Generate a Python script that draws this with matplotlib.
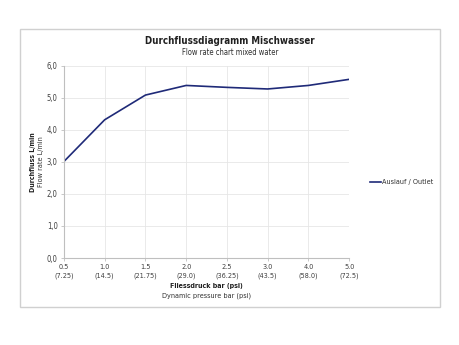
import matplotlib.pyplot as plt
from matplotlib.patches import Rectangle

# Daten
pressure_bar = ["0.5", "1.0", "1.5", "2.0", "2.5", "3.0", "4.0", "5.0"]
pressure_psi = ["(7.25)", "(14.5)", "(21.75)", "(29.0)", "(36.25)", "(43.5)", "(58.0)", "(72.5)"]
flow_outlet = [3.01, 4.31, 5.08, 5.38, 5.32, 5.27, 5.38, 5.57]
y_ticks = [0, 1, 2, 3, 4, 5, 6]

# schmale Schrift
plt.rcParams["font.family"] = ["DejaVu Sans"]
plt.rcParams["font.stretch"] = "condensed"

fig = plt.figure(figsize=(4.6, 3.45), dpi=100)
ax = fig.add_axes([0.139, 0.252, 0.620, 0.558])

# Rahmen um das ganze Diagramm
fig.patches.append(Rectangle((0.0435, 0.110), 0.913, 0.806, transform=fig.transFigure,
                             fill=False, edgecolor="#d0d0d0", linewidth=1.0))

x = list(range(len(pressure_bar)))
ax.plot(x, flow_outlet, color="#1f2a78", linewidth=1.2, label="Auslauf / Outlet")

ax.set_xlim(0, len(x) - 1)
ax.set_ylim(0, 6)
ax.set_xticks(x)
ax.set_xticklabels([f"{b}\n{p}" for b, p in zip(pressure_bar, pressure_psi)],
                   fontsize=5.2, color="#404040", linespacing=1.4)
ax.set_yticks(y_ticks)
ax.set_yticklabels([f"{v:.1f}".replace(".", ",") for v in y_ticks], fontsize=5.5, color="#404040")
ax.grid(True, color="#e6e6e6", linewidth=0.6)
ax.set_axisbelow(True)
for s in ["top", "right"]:
    ax.spines[s].set_visible(False)
for s in ["left", "bottom"]:
    ax.spines[s].set_color("#bfbfbf")
    ax.spines[s].set_linewidth(0.8)
ax.tick_params(length=2.5, width=0.6, color="#bfbfbf", pad=2)

# Titel
fig.text(0.5, 0.881, "Durchflussdiagramm Mischwasser", ha="center", va="center",
         fontsize=7, fontweight="bold", color="#202020")
fig.text(0.5, 0.849, "Flow rate chart mixed water", ha="center", va="center",
         fontsize=5.5, color="#303030")

# Achsentitel
fig.text(0.449, 0.170, "Fliessdruck bar (psi)", ha="center", va="center",
         fontsize=5, fontweight="bold", color="#202020")
fig.text(0.449, 0.144, "Dynamic pressure bar (psi)", ha="center", va="center",
         fontsize=5.2, color="#303030")
fig.text(0.072, 0.531, "Durchfluss L/min", ha="center", va="center", rotation=90,
         fontsize=5, fontweight="bold", color="#202020")
fig.text(0.090, 0.531, "Flow rate L/min", ha="center", va="center", rotation=90,
         fontsize=5.2, color="#303030")

fig.legend(loc="center left", bbox_to_anchor=(0.79, 0.472), frameon=False, fontsize=5.2,
           handlelength=1.6, handletextpad=0.1, labelcolor="#303030")

fig.savefig("out.png", dpi=100)
